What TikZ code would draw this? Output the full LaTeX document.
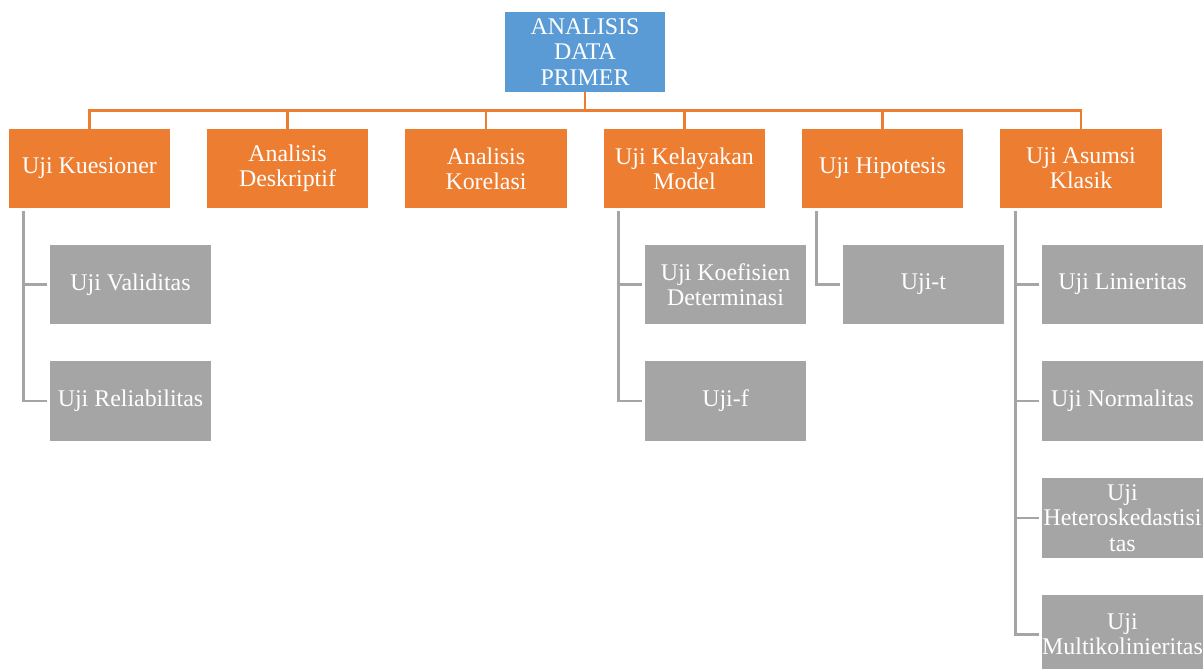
\documentclass[tikz,border=0pt]{standalone}
\usepackage{fontspec}
\setmainfont{Liberation Serif}
\usetikzlibrary{calc}

\definecolor{rootblue}{HTML}{5B9BD5}
\definecolor{mainorange}{HTML}{ED7D31}
\definecolor{subgray}{HTML}{A5A5A5}

\tikzset{
  rootbox/.style={fill=rootblue, text=white, minimum width=4cm, minimum height=2cm,
    inner sep=0pt, align=center, font=\fontsize{17}{18}\selectfont},
  mainbox/.style={fill=mainorange, text=white, minimum width=4.03cm, minimum height=1.98cm,
    inner sep=0pt, align=center, font=\fontsize{17}{18}\selectfont},
  subbox/.style={fill=subgray, text=white, minimum width=4.03cm, minimum height=1.98cm,
    inner sep=0pt, align=center, font=\fontsize{17}{18}\selectfont},
  orangeline/.style={draw=mainorange, line width=2pt},
  grayline/.style={draw=subgray, line width=2pt}
}

\begin{document}
\begin{tikzpicture}[x=0.025cm, y=-0.025cm]
	%% page frame (pixels of the original)
	\useasboundingbox (0,0) rectangle (1204,669);
	\clip (0,0) rectangle (1204,669);

	%% top node
	\node[rootbox] (root) at (585,52) {ANALISIS\\DATA\\PRIMER};

	%% first level
	\node[mainbox] (kues) at (89.5,168.5) {Uji Kuesioner};
	\node[mainbox] (desk) at (287.5,168.5) {Analisis\\Deskriptif};
	\node[mainbox] (kore) at (486,168.5) {Analisis\\Korelasi};
	\node[mainbox] (kela) at (684.5,168.5) {Uji Kelayakan\\Model};
	\node[mainbox] (hipo) at (882.5,168.5) {Uji Hipotesis};
	\node[mainbox] (asum) at (1081,168.5) {Uji Asumsi\\Klasik};

	%% second level
	\node[subbox] (vali) at (130.5,284.5) {Uji Validitas};
	\node[subbox] (reli) at (130.5,401) {Uji Reliabilitas};

	\node[subbox] (koef) at (725.5,284.5) {Uji Koefisien\\Determinasi};
	\node[subbox] (ujif) at (725.5,401) {Uji-f};

	\node[subbox] (ujit) at (923.5,284.5) {Uji-t};

	\node[subbox] (lini) at (1122.5,284.5) {Uji Linieritas};
	\node[subbox] (norm) at (1122.5,401) {Uji Normalitas};
	\node[subbox] (hete) at (1122.5,518) {Uji\\Heteroskedastisi\\tas};
	\node[subbox] (mult) at (1122.5,634.5) {Uji\\Multikolinieritas};

	%% orange bus under the top node
	\coordinate (bus) at ($(root.south)+(0,18)$);
	\draw[orangeline] (root.south) -- (bus);
	\foreach \n in {kues,desk,kore,kela,hipo,asum}
	{
	  \draw[orangeline] (\n.north) |- (bus);
	}

	%% gray brackets to the tests
	\foreach \p/\c in {kues/vali,kues/reli,kela/koef,kela/ujif,hipo/ujit,
	                   asum/lini,asum/norm,asum/hete,asum/mult}
	{
	  \draw[grayline] ($(\p.south west)+(15,3)$) |- ($(\c.west)+(-3,0)$);
	}
\end{tikzpicture}
\end{document}
